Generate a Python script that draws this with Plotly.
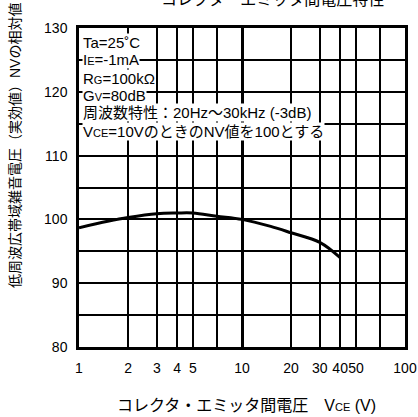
import plotly.graph_objects as go

# data
vce = [1, 1.5, 2, 3, 4, 5, 7, 10, 15, 20, 30, 40]
nv = [98.7, 99.7, 100.3, 100.9, 101.0, 101.0, 100.5, 100.0, 98.9, 97.9, 96.4, 94.0]

x_tickvals = [1, 2, 3, 4, 5, 7, 10, 20, 30, 40, 50, 70, 100]
x_ticktext = ["1", "2", "3", "4", "5", "", "10", "20", "30", "40", "50", "", "100"]
y_tickvals = [80, 85, 90, 95, 100, 105, 110, 115, 120, 125, 130]
y_ticktext = ["80", "", "90", "", "100", "", "110", "", "120", "", "130"]

SM = "<span style='font-size:11px'>{}</span>"
notes = [
    "Ta=25˚C",
    "I" + SM.format("E") + "=-1mA",
    "R" + SM.format("G") + "=100kΩ",
    "G" + SM.format("V") + "=80dB",
    "周波数特性：20Hz～30kHz (-3dB)",
    "V" + SM.format("CE") + "=10VのときのNV値を100とする",
]
title_text = "コレクタ－エミッタ間電圧特性"
x_title = "コレクタ・エミッタ間電圧　V" + SM.format("CE") + " (V)"
y_title = "低周波広帯域雑音電圧（実効値）NVの相対値"

FONT = "Liberation Sans, Arial, Noto Sans CJK JP, sans-serif"

fig = go.Figure()
fig.add_trace(go.Scatter(x=vce, y=nv, mode="lines",
                         line=dict(color="black", width=3, shape="spline"),
                         hoverinfo="skip", showlegend=False))
# invisible trace on second x axis for thicker 10 gridline
fig.add_trace(go.Scatter(x=[1, 100], y=[80, 80], xaxis="x2", mode="lines",
                         line=dict(width=0), opacity=0, showlegend=False,
                         hoverinfo="skip"))

fig.update_layout(
    width=418, height=417,
    margin=dict(l=79, r=13, t=28, b=70),
    paper_bgcolor="white", plot_bgcolor="white",
    font=dict(family=FONT, size=13, color="black"),
    xaxis=dict(type="log", range=[0, 2], tickvals=x_tickvals, ticktext=x_ticktext,
               showgrid=True, gridcolor="black", gridwidth=1.5,
               showline=True, linecolor="black", linewidth=2.5, mirror=True,
               ticks="", ticklabelstandoff=6, tickfont=dict(size=14),
               tickangle=0, automargin=False,
               zeroline=False, fixedrange=True),
    xaxis2=dict(type="log", range=[0, 2], overlaying="x", tickvals=[10],
                showticklabels=False, showgrid=True, gridcolor="black",
                gridwidth=2.5, showline=False, ticks="", zeroline=False,
                automargin=False),
    yaxis=dict(range=[80, 130], tickvals=y_tickvals, ticktext=y_ticktext,
               showgrid=True, gridcolor="black", gridwidth=2,
               showline=True, linecolor="black", linewidth=2.5, mirror=True,
               ticks="", ticklabelstandoff=6, tickfont=dict(size=14),
               automargin=False, zeroline=False, fixedrange=True),
)

# condition notes
note_y = [42, 60, 78, 95, 113, 131]
for txt, py in zip(notes, note_y):
    fig.add_annotation(text=txt, xref="paper", yref="paper",
                       x=3 / 326, y=1 - (py - 28) / 319,
                       xanchor="left", yanchor="middle", showarrow=False,
                       bgcolor="white", borderpad=0,
                       font=dict(size=15, family=FONT, color="black"))

# title (partly cut at top, as in the reference)
fig.add_annotation(text=title_text, xref="paper", yref="paper",
                   x=(272 - 79) / 326, y=1 + (28 - 0) / 319,
                   xanchor="center", yanchor="middle", showarrow=False,
                   font=dict(size=16, family=FONT, color="black"))
# x title
fig.add_annotation(text=x_title, xref="paper", yref="paper",
                   x=(246 - 79) / 326, y=-(405 - 347) / 319,
                   xanchor="center", yanchor="middle", showarrow=False,
                   font=dict(size=16, family=FONT, color="black"))
# y title
fig.add_annotation(text=y_title, xref="paper", yref="paper",
                   x=-(79 - 15) / 326, y=1 - (146 - 28) / 319,
                   xanchor="center", yanchor="middle", showarrow=False,
                   textangle=-90,
                   font=dict(size=14, family=FONT, color="black"))

fig.write_html("out.html", config={"displayModeBar": False},
               post_script="document.body.style.margin='0px';document.body.style.overflow='hidden';")
